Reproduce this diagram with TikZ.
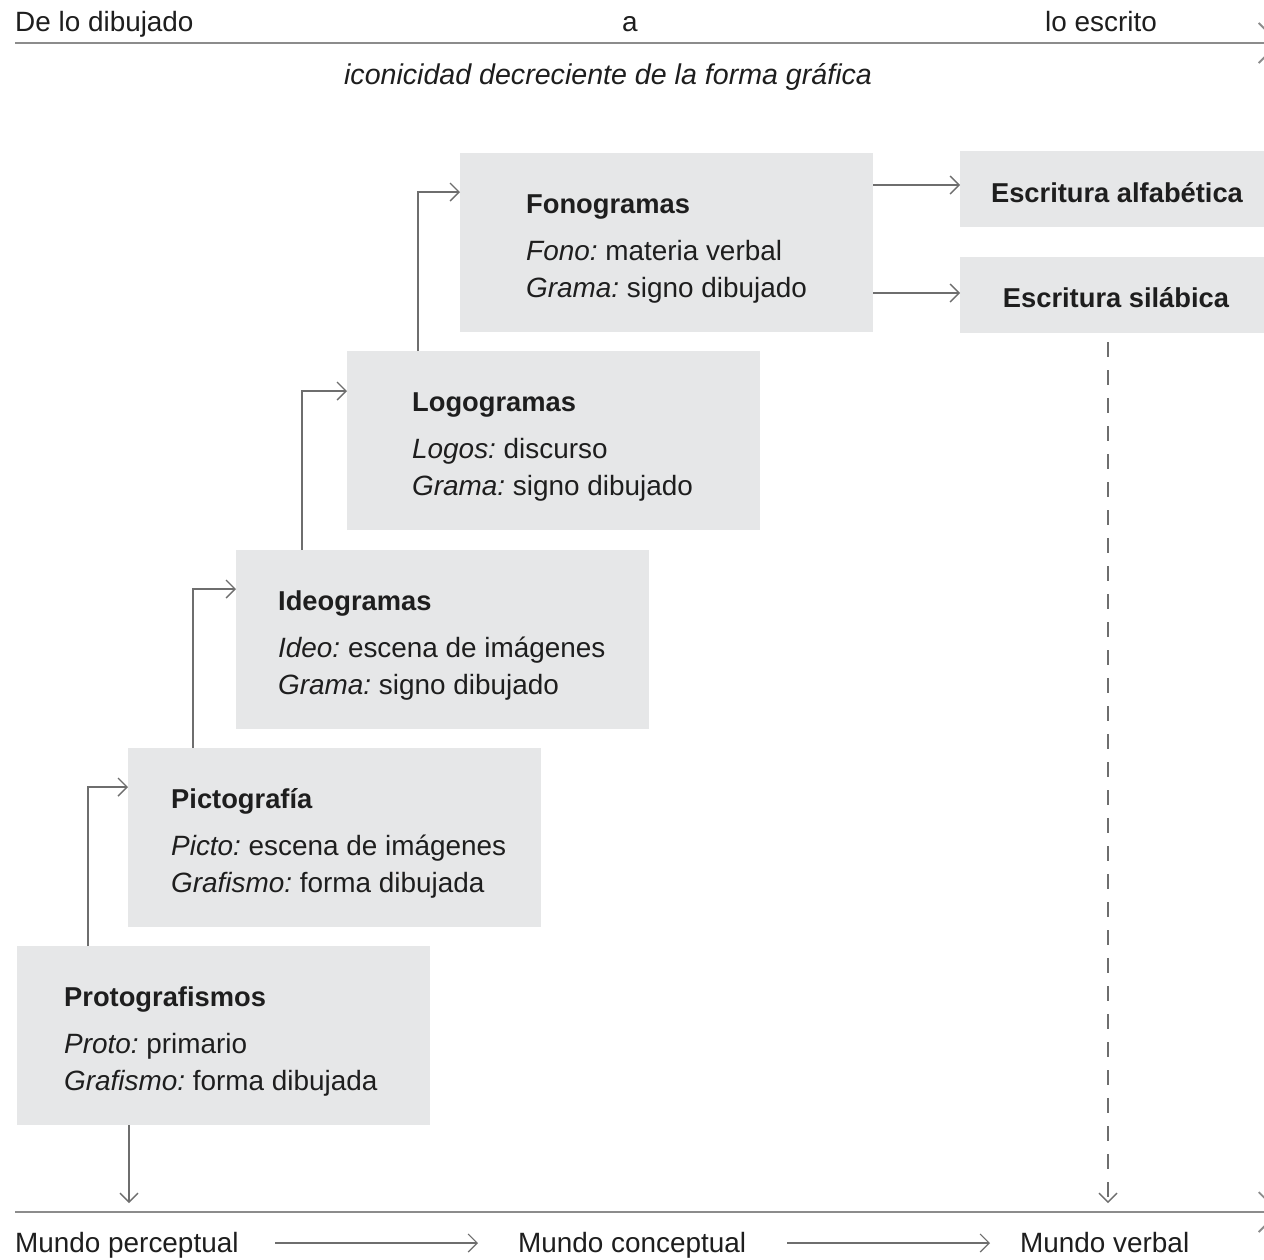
\documentclass[tikz,border=0pt]{standalone}
\usepackage{fontspec}
\setmainfont{Liberation Sans}
\usetikzlibrary{arrows.meta}
\definecolor{boxgray}{HTML}{E6E7E8}
\definecolor{linegray}{HTML}{6E6E6E}
\definecolor{rulegray}{HTML}{8C8C8C}
\definecolor{txtcol}{HTML}{1E1E1E}
\tikzset{
  box/.style={fill=boxgray, draw=none, minimum width=413pt, minimum height=179pt, inner sep=0pt, anchor=north west},
  sidebox/.style={fill=boxgray, draw=none, minimum width=312pt, minimum height=76pt, inner sep=0pt, anchor=north west},
  txt/.style={text=txtcol, inner sep=0pt, anchor=base west},
  ttl/.style={txt, font=\fontsize{27.3}{33}\selectfont\bfseries},
  conn/.style={draw=linegray, line width=1.4pt, -{Straight Barb[length=9pt,width=18pt]}},
  rule/.style={draw=rulegray, line width=1.8pt, -{Straight Barb[length=20pt,width=40pt]}},
}
\begin{document}
\begin{tikzpicture}[x=1pt,y=-1pt,font=\fontsize{27.9}{33}\selectfont]
\useasboundingbox (0,0) rectangle (1264,1259);
\fill[white] (0,0) rectangle (1264,1259);

% top header
\node[txt] (dlo) at (15,31) {De lo dibujado};
\node[txt, anchor=base] (ta) at (630,31) {a};
\node[txt] (esc) at (1045,31) {lo escrito};
\coordinate (topL) at (15,43);
\coordinate (topR) at (1280,43);
\draw[rule] (topL) -- (topR);
\node[txt, anchor=base, font=\fontsize{28.6}{33}\selectfont\itshape] (icon) at (608,84) {iconicidad decreciente de la forma gráfica};

% boxes
\node[box] (proto) at (17,946) {};
\node[box] (picto) at (128,748) {};
\node[box] (ideo) at (236,550) {};
\node[box] (logo) at (347,351) {};
\node[box] (fono) at (460,153) {};
\node[sidebox] (alfa) at (960,151) {};
\node[sidebox] (sila) at (960,257) {};

% box texts
\node[ttl] (protoA) at (64,1006) {Protografismos};
\node[txt] (protoB) at (64,1053) {\itshape Proto:\upshape\ primario};
\node[txt] (protoC) at (64,1090) {\itshape Grafismo:\upshape\ forma dibujada};

\node[ttl] (pictoA) at (171,808) {Pictografía};
\node[txt] (pictoB) at (171,855) {\itshape Picto:\upshape\ escena de imágenes};
\node[txt] (pictoC) at (171,892) {\itshape Grafismo:\upshape\ forma dibujada};

\node[ttl] (ideoA) at (278,610) {Ideogramas};
\node[txt] (ideoB) at (278,657) {\itshape Ideo:\upshape\ escena de imágenes};
\node[txt] (ideoC) at (278,694) {\itshape Grama:\upshape\ signo dibujado};

\node[ttl] (logoA) at (412,411) {Logogramas};
\node[txt] (logoB) at (412,458) {\itshape Logos:\upshape\ discurso};
\node[txt] (logoC) at (412,495) {\itshape Grama:\upshape\ signo dibujado};

\node[ttl] (fonoA) at (526,213) {Fonogramas};
\node[txt] (fonoB) at (526,260) {\itshape Fono:\upshape\ materia verbal};
\node[txt] (fonoC) at (526,297) {\itshape Grama:\upshape\ signo dibujado};

\node[ttl, anchor=base] (alfaT) at (1117,202) {Escritura alfabética};
\node[ttl, anchor=base] (silaT) at (1116,307) {Escritura silábica};

% elbow connectors
\draw[conn] ([xshift=71pt]proto.north west) |- ([yshift=-39pt]picto.north west);
\draw[conn] ([xshift=65pt]picto.north west) |- ([yshift=-39pt]ideo.north west);
\draw[conn] ([xshift=66pt]ideo.north west) |- ([yshift=-40pt]logo.north west);
\draw[conn] ([xshift=71pt]logo.north west) |- ([yshift=-39pt]fono.north west);

% fono to writing systems
\draw[conn] ([yshift=-32pt]fono.north east) -- ([yshift=-32pt]fono.north east -| alfa.west);
\draw[conn] ([yshift=-140pt]fono.north east) -- ([yshift=-140pt]fono.north east -| sila.west);

% dashed line from silabica down
\coordinate (dashEnd) at (1108,1203);
\draw[conn, dash pattern=on 15pt off 13pt] ([yshift=-9pt]sila.south -| dashEnd) -- (dashEnd);

% down arrow from protografismos
\coordinate (protoDown) at (129,1203);
\draw[conn] (proto.south -| protoDown) -- (protoDown);

% bottom rule
\coordinate (botL) at (15,1212);
\coordinate (botR) at (1280,1212);
\draw[rule] (botL) -- (botR);

% bottom labels
\node[txt] (mp) at (15,1252) {Mundo perceptual};
\node[txt] (mc) at (518,1252) {Mundo conceptual};
\node[txt] (mv) at (1020,1252) {Mundo verbal};
\coordinate (a1s) at (275,1243);
\coordinate (a1e) at (478,1243);
\coordinate (a2s) at (787,1243);
\coordinate (a2e) at (990,1243);
\draw[conn, line width=1.2pt] (a1s) -- (a1e);
\draw[conn, line width=1.2pt] (a2s) -- (a2e);
\end{tikzpicture}
\end{document}
